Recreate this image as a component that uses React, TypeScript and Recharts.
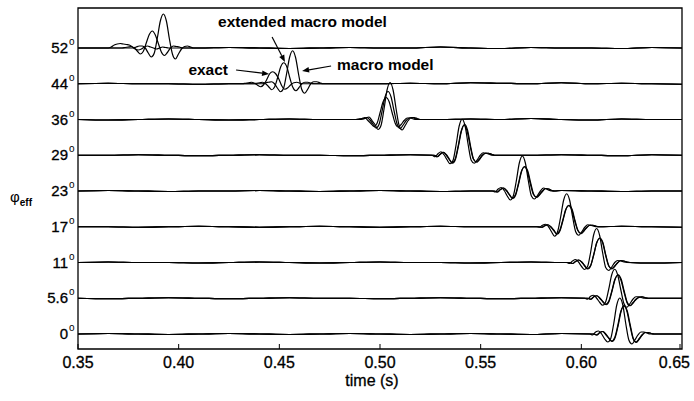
import { LineChart, Line, XAxis, YAxis, ReferenceArea, ReferenceLine } from "recharts";

// trace labels, bottom to top (effective angle)
const ANGLES = ["0", "5.6", "11", "17", "23", "29", "36", "44", "52"];
const TRACE_GAP = 35.75;
const X_TICKS = [0.35, 0.4, 0.45, 0.5, 0.55, 0.6, 0.65];

// time offsets of the pulse samples around each arrival (s)
const PULSE_OFFSETS = [
  -0.015, -0.0135, -0.012, -0.0105, -0.009, -0.0075, -0.006, -0.0045, -0.003, -0.0015, 0,
  0.0015, 0.003, 0.0045, 0.006, 0.0075, 0.009, 0.0105, 0.012, 0.0135, 0.015,
];

const ARRIVAL_EXACT = [0.6211, 0.6181, 0.6091, 0.5937, 0.5717, 0.5418, 0.503, 0.4467, 0.38];
const ARRIVAL_EXTENDED = [0.6213, 0.6183, 0.6092, 0.5939, 0.5719, 0.542, 0.504, 0.4522, 0.3869];
const ARRIVAL_MACRO = [0.6191, 0.6166, 0.6076, 0.5927, 0.5707, 0.5408, 0.505, 0.4566, 0.3924];

const EXACT = [
  [0, -1, 1.5, 2.5, -0.5, -4, -7, -3.5, 8.5, 22.5, 28, 23, 9, -4, -8, -5, -1, 1.5, 1.5, 0.5, 0],
  [0, -1, 1.5, 2.5, 0, -3.5, -6, -3, 7, 18.5, 23, 18.5, 7, -4, -7.5, -4.5, -1, 1, 1.5, 0.5, 0],
  [0, -1, 1, 2.5, 0.5, -3, -6, -3, 7.5, 19.5, 24, 19.5, 7, -3.5, -6, -3.5, 0, 2, 1.5, 0.5, 0],
  [0, -0.5, 1, 2, 0, -3.5, -7, -4, 6, 17, 21, 17, 6, -3.5, -6.5, -4, -0.5, 1.5, 1.5, 0.5, 0],
  [0, -1, 1.5, 3, 0.5, -3.5, -7, -4, 7, 19.5, 24, 19.5, 7, -3.5, -6, -3.5, 0, 2.5, 2, 0.5, 0],
  [0, -1.5, 1, 3, 0.5, -4, -7.5, -4, 9, 24, 30, 24, 9, -3.5, -6.5, -4, 0, 2, 2, 1, 0],
  [0, 0.5, 1, 2, -1, -4, -7, -4, 6.5, 17.5, 22, 18, 7, -3.5, -7.5, -5, -1, 1.5, 1.5, 0.5, 0],
  [0, 0.5, 1, 1.5, 0.5, -1.5, -3, -1, 4, 10, 12, 10, 5, -2, -5.5, -4, -1, 1, 1.5, 0.5, 0],
  [0, 1, 3, 4, 4.5, 4, 3.5, 3, 1, -1, -2, -1, 1, 2, 1, 0, -1, 0, 1, 0.5, 0],
];

const EXTENDED = [
  [0, -1, 1.5, 2.5, -0.5, -4.5, -7.5, -3.5, 8.5, 23, 28.5, 23, 9, -4.5, -8.5, -5, -1, 1.5, 1.5, 0.5, 0],
  [0, -1, 1.5, 2.5, 0, -3.5, -6.5, -3, 7.5, 19, 23.5, 19, 7, -4, -7.5, -4.5, -1, 1, 1.5, 0.5, 0],
  [0, -1, 1, 2.5, 0.5, -3.5, -6.5, -3, 8, 20, 24.5, 20, 7, -3.5, -6.5, -3.5, 0, 2, 1.5, 0.5, 0],
  [0, -0.5, 1, 2, 0, -3.5, -7.5, -4, 6.5, 17.5, 21.5, 17.5, 6, -4, -7, -4, -0.5, 1.5, 1.5, 0.5, 0],
  [0, -1, 1.5, 3, 0.5, -4, -7.5, -4, 7.5, 20, 24.5, 20, 7.5, -3.5, -6.5, -3.5, 0, 2.5, 2, 0.5, 0],
  [0, -1.5, 1, 3, 0.5, -4, -8, -4, 9.5, 24.5, 31, 25, 9, -4, -7, -4, 0, 2, 2, 1, 0],
  [0, 0.5, 1, 2, -0.5, -4.5, -8.5, -5, 8, 22.5, 28, 22.5, 8.5, -4.5, -9, -5.5, -1, 1.5, 2, 1, 0],
  [0, 0.5, 1, 1.5, 0, -3, -6, -3, 6.5, 17, 21, 17, 6, -3.5, -7, -4, 0, 1.5, 1.5, 0.5, 0],
  [0, 0.5, 1, 1.5, 0, -3, -6, -3.5, 5, 13.5, 17, 13, 4.5, -4, -7.5, -4.5, 0, 2, 1.5, 1, 0],
];

const MACRO = [
  [0, -1, 2, 3, 0, -5, -8, -4.5, 10.5, 29, 36, 29, 10, -6, -10, -6, -1, 2, 2, 1, 0],
  [0, -1, 2, 3, 0, -4, -7, -3.5, 9, 23.5, 29, 23, 8.5, -5, -9, -5.5, -1, 1.5, 1.5, 0.5, 0],
  [0, -1, 1.5, 3, 0.5, -4, -7, -4, 10, 27.5, 34, 27, 9.5, -5, -8, -4.5, 0, 2, 1.5, 0.5, 0],
  [0, -0.5, 1.5, 2.5, 0, -5, -9.5, -5, 9.5, 26.5, 33, 26.5, 9.5, -5, -8.5, -5, -0.5, 2, 1.5, 0.5, 0],
  [0, -1, 2, 3.5, 0.5, -5, -9, -5, 10, 28, 35, 28, 10, -5, -8, -4.5, 0, 3, 2, 0.5, 0],
  [0, -1.5, 1.5, 3.5, 0.5, -4.5, -8.5, -5, 10.5, 29, 36, 29, 10.5, -5, -8, -4.5, 0, 2.5, 2, 1, 0],
  [0, 0.5, 1.5, 2.5, -1, -5, -10, -6, 10.5, 29.5, 37, 29.5, 10.5, -6, -10.5, -6, -1, 2, 2, 1, 0],
  [0, 1, 1.5, 2, 0, -4.5, -8, -4.5, 10, 26.5, 33, 26, 9, -5.5, -9.5, -5.5, 0, 2, 2, 1, 0],
  [0, 1, 2, 2, 0, -5, -9, -5, 10, 27, 34, 27, 9, -6, -11, -6, -1, 1.5, 2, 1, 0],
];

// small baseline ripple shared by the three curves of a trace
const WIGGLE_T = [
  0.35, 0.365, 0.38, 0.395, 0.41, 0.425, 0.44, 0.455, 0.47, 0.485, 0.5,
  0.515, 0.53, 0.545, 0.56, 0.575, 0.59, 0.605, 0.62, 0.635, 0.65,
];
const WIGGLE = [
  [0, 0.5, 0, -0.5, 0, 0.5, 0, -0.5, 0, 0.5, 0, -0.5, 0, 0.5, 0, -0.5, 0.5, 0, 0, 0.5, 0],
  [0, -0.5, 0, 0.5, 0, -0.5, 0, 0.5, 0, 0, -0.5, 0, 0.5, 0, -0.5, 0, 0.5, 0, 0, 0, 0],
  [0, 0.5, 0, 0, -0.5, 0, 0.5, 0, -0.5, 0, 0.5, 0, 0, -0.5, 0, 0.5, 0, 0, 0, -0.5, 0],
  [0, 0, -0.5, 0, 0.5, 0, -0.5, 0, 0.5, 0, -0.5, 0, 0.5, 0, 0, 0, 0, 0, 0.5, 0, -0.5],
  [0, 0.5, 0, -0.5, 0, 0, 0.5, 0, -0.5, 0, 0.5, 0, -0.5, 0, 0, 0, 0.5, 0, -0.5, 0, 0],
  [0, 0, 0.5, 0, -0.5, 0, 0.5, 0, 0, -0.5, 0, 0.5, 0, 0, 0, 0, 0.5, 0, -0.5, 0.5, 0],
  [0, -0.5, 0, 0.5, 0, -0.5, 0, 0.5, 0, 0, 0, 0, 0, 0.5, 0, 1, 0, -0.5, 0.5, 0, 0],
  [0, 0.5, 0, 0, -0.5, 0, 0.5, 0, 0, 0, 0, 0.5, 0, 1, 0.5, 0, 1, 0, 0.5, 0, -0.5],
  [0, 0, 0.5, 0, 0, 0.5, 0, -0.5, 0, 0.5, 0, 0, 1, 0, -0.5, 0.5, 0, 0, -0.5, 0.5, 0],
];

// [text, arrow start (t, v), arrow tip (t, v), text dx, text dy, anchor]
const ANNOTATIONS: [string, number, number, number, number, number, number, "start" | "end"][] = [
  ["extended macro model", 0.4464, 297, 0.4528, 272, -54, -10, "start"],
  ["exact", 0.4285, 264, 0.4449, 260, -8, 5, "end"],
  ["macro model", 0.4757, 268, 0.4613, 263, 6, 4, "start"],
];

const FONT = "'Liberation Sans', Arial, Helvetica, sans-serif";

function buildSeries(trace: number, arrivals: number[], values: number[][]) {
  const lo = Math.min(ARRIVAL_EXACT[trace], ARRIVAL_EXTENDED[trace], ARRIVAL_MACRO[trace]) - 0.0155;
  const hi = Math.max(ARRIVAL_EXACT[trace], ARRIVAL_EXTENDED[trace], ARRIVAL_MACRO[trace]) + 0.0155;
  const base = trace * TRACE_GAP;
  const pts: { t: number; v: number }[] = [];
  WIGGLE_T.forEach((t, k) => {
    if (t < lo || t > hi) pts.push({ t, v: base + WIGGLE[trace][k] });
  });
  PULSE_OFFSETS.forEach((dt, k) => pts.push({ t: arrivals[trace] + dt, v: base + values[trace][k] }));
  return pts.sort((a, b) => a.t - b.t);
}

function XTick({ x, y, payload, index }: any) {
  // the last label is nudged left so it stays inside the frame
  const last = index === X_TICKS.length - 1;
  return (
    <g>
      <line x1={x} y1={y} x2={x} y2={y - 5} stroke="#000" strokeWidth={1} />
      <text x={last ? x + 10 : x} y={y + 19} textAnchor={last ? "end" : "middle"} fontSize={16} fontFamily={FONT} fill="#000" stroke="#000" strokeWidth={0.3}>
        {Number(payload.value).toFixed(2)}
      </text>
    </g>
  );
}

function YTick({ x, y, payload, index }: any) {
  const label = ANGLES[index] ?? String(payload.value);
  return (
    <g fontFamily={FONT} fill="#000">
      <text x={x - 10} y={y + 5} textAnchor="end" fontSize={15} stroke="#000" strokeWidth={0.3}>{label}</text>
      <text x={x - 9} y={y - 3} fontSize={10}>o</text>
    </g>
  );
}

function arrowShape(text: string, dx: number, dy: number, anchor: "start" | "end") {
  return (p: any) => {
    const { x1, y1, x2, y2 } = p;
    const a = Math.atan2(y2 - y1, x2 - x1);
    const c = Math.cos(a), s = Math.sin(a);
    const bx = x2 - 7 * c, by = y2 - 7 * s;
    const pts = `${x2},${y2} ${bx - 2.8 * s},${by + 2.8 * c} ${bx + 2.8 * s},${by - 2.8 * c}`;
    return (
      <g>
        <line x1={x1} y1={y1} x2={bx} y2={by} stroke="#000" strokeWidth={1.2} />
        <polygon points={pts} fill="#000" />
        <text x={x1 + dx} y={y1 + dy} textAnchor={anchor} fontSize={15.5} fontWeight="bold" fontFamily={FONT} fill="#000">
          {text}
        </text>
      </g>
    );
  };
}

export default function App() {
  const yTicks = ANGLES.map((_, i) => i * TRACE_GAP);
  return (
    <div style={{ position: "absolute", left: 0, top: 0, background: "#fff" }}>
      <LineChart width={694} height={401} margin={{ top: 8, right: 12, bottom: 0, left: 0 }}>
        <XAxis
          dataKey="t"
          type="number"
          domain={[0.35, 0.65]}
          ticks={X_TICKS}
          allowDataOverflow
          height={52}
          axisLine={false}
          tickLine={false}
          tickSize={0}
          tickMargin={0}
          tick={<XTick />}
          label={{
            content: ({ viewBox }: any) => (
              <text x={viewBox.x + viewBox.width / 2 - 8} y={viewBox.y + 37} textAnchor="middle" fontSize={16} fontFamily={FONT} fill="#000" stroke="#000" strokeWidth={0.3}>
                time (s)
              </text>
            ),
          }}
        />
        <YAxis
          type="number"
          domain={[-15, 326]}
          ticks={yTicks}
          allowDataOverflow
          width={78}
          axisLine={false}
          tickLine={false}
          tickSize={0}
          tickMargin={0}
          tick={<YTick />}
          label={{
            content: ({ viewBox }: any) => (
              <text x={viewBox.x + 10} y={viewBox.y + 194} fontSize={15} fontFamily={FONT} fill="#000">
                φ<tspan dy={4} fontSize={10} fontWeight="bold">eff</tspan>
              </text>
            ),
          }}
        />
        <ReferenceArea x1={0.35} x2={0.65} y1={-15} y2={326} fill="none" stroke="#000" strokeWidth={1.3} fillOpacity={0} />
        {ANGLES.map((a, i) => (
          <Line key={`ex-${a}`} data={buildSeries(i, ARRIVAL_EXACT, EXACT)} dataKey="v" type="monotone" stroke="#000" strokeWidth={1.2} dot={false} isAnimationActive={false} />
        ))}
        {ANGLES.map((a, i) => (
          <Line key={`xt-${a}`} data={buildSeries(i, ARRIVAL_EXTENDED, EXTENDED)} dataKey="v" type="monotone" stroke="#000" strokeWidth={1.2} dot={false} isAnimationActive={false} />
        ))}
        {ANGLES.map((a, i) => (
          <Line key={`mm-${a}`} data={buildSeries(i, ARRIVAL_MACRO, MACRO)} dataKey="v" type="monotone" stroke="#000" strokeWidth={1.2} dot={false} isAnimationActive={false} />
        ))}
        {ANNOTATIONS.map(([text, t1, v1, t2, v2, dx, dy, anchor]) => (
          <ReferenceLine
            key={text}
            segment={[{ x: t1, y: v1 }, { x: t2, y: v2 }]}
            shape={arrowShape(text, dx, dy, anchor)}
          />
        ))}
      </LineChart>
    </div>
  );
}
